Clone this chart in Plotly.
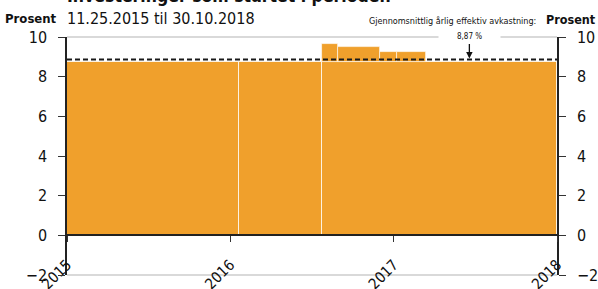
import plotly.graph_objects as go
from datetime import datetime

# ---- data ----
base_starts = ["2015-01-01", "2016-01-21", "2016-07-25"]
base_ends = ["2016-01-21", "2016-07-25", "2018-01-01"]
base_values = [8.72, 8.72, 8.72]

top_starts = ["2016-07-24", "2016-08-29", "2016-12-01", "2017-01-08"]
top_ends = ["2016-08-29", "2016-12-01", "2017-01-08", "2017-03-14"]
top_values = [9.66, 9.49, 9.24, 9.24]

avg_value = 8.87
avg_label = "8,87 %"
avg_marker_date = "2017-06-19"
x_range = ["2015-01-01", "2018-01-01"]
year_ticks = ["2015-01-01", "2016-01-01", "2017-01-01", "2018-01-01"]
year_labels = ["2015", "2016", "2017", "2018"]
y_ticks = [-2, 0, 2, 4, 6, 8, 10]

FONT = "DejaVu Sans Condensed, Liberation Sans Narrow, Roboto, sans-serif"
ORANGE = "#F0A02C"


def ms(a, b):
    return (datetime.fromisoformat(b) - datetime.fromisoformat(a)).total_seconds() * 1000


fig = go.Figure()
fig.add_trace(go.Bar(
    x=base_starts, y=base_values, width=[ms(a, b) for a, b in zip(base_starts, base_ends)],
    offset=0, marker=dict(color=ORANGE, line=dict(color="rgba(255,255,255,0.75)", width=1)),
    showlegend=False, hoverinfo="skip"))
fig.add_trace(go.Bar(
    x=top_starts, y=[v - base_values[0] for v in top_values], base=base_values[0],
    width=[ms(a, b) for a, b in zip(top_starts, top_ends)],
    offset=0, marker=dict(color=ORANGE, line=dict(color="rgba(255,255,255,0.75)", width=0.8)),
    showlegend=False, hoverinfo="skip"))
fig.add_trace(go.Scatter(
    x=x_range, y=[avg_value, avg_value], mode="lines",
    line=dict(color="#1a1a1a", width=2, dash="5px,3px"),
    showlegend=False, hoverinfo="skip"))
# invisible trace for right axis
fig.add_trace(go.Scatter(x=x_range, y=[None, None], yaxis="y2", showlegend=False, hoverinfo="skip"))

y_lo, y_hi = y_ticks[0], y_ticks[-1]

fig.update_layout(
    width=598, height=289,
    margin=dict(l=67, r=41, t=37, b=14),
    paper_bgcolor="white", plot_bgcolor="white",
    barmode="overlay", bargap=0,
    font=dict(family=FONT, color="#111"),
    xaxis=dict(
        type="date", range=x_range, tickvals=year_ticks, ticktext=year_labels,
        tickangle=-45, anchor="free", position=(0 - y_lo) / (y_hi - y_lo),
        showline=True, linecolor="#222", linewidth=1.5,
        ticks="outside", ticklen=6, tickcolor="#333", tickwidth=1,
        showgrid=False, zeroline=False, automargin=False,
        tickfont=dict(size=15, family=FONT, color="#111"),
        ticklabelstandoff=8,
    ),
    yaxis=dict(
        range=[y_lo, y_hi], tickvals=y_ticks, showline=True, linecolor="#222", linewidth=1.5,
        ticks="outside", ticklen=7, tickcolor="#333", showgrid=False,
        zeroline=False, automargin=False,
        tickfont=dict(size=16, family=FONT, color="#111"), ticklabelstandoff=8,
    ),
    yaxis2=dict(
        range=[y_lo, y_hi], tickvals=y_ticks, overlaying="y", side="right", showline=True,
        linecolor="#222", linewidth=1.5, ticks="outside", ticklen=7, tickcolor="#333",
        showgrid=False, zeroline=False, automargin=False,
        tickfont=dict(size=16, family=FONT, color="#111"), ticklabelstandoff=8,
    ),
)

# light frame lines at the top and bottom of the value axis (paper coords: not clipped)
for yp in (0, 1):
    fig.add_shape(type="line", xref="paper", yref="paper", x0=0, x1=1, y0=yp, y1=yp,
                  line=dict(color="#cccccc", width=1.5), layer="below")

ann = [
    dict(text="<b>Investeringer som startet i perioden</b>", xref="paper", yref="paper",
         x=-0.005, y=(275 - 8) / 238, xanchor="left", yanchor="bottom", showarrow=False,
         font=dict(size=17.5, family=FONT, color="#111")),
    dict(text="<b>Prosent</b>", xref="paper", yref="paper", x=-67 / 490 + 3 / 490,
         y=(275 - 18) / 238, xanchor="left", yanchor="middle", showarrow=False,
         font=dict(size=13, family=FONT, color="#111")),
    dict(text="11.25.2015 til 30.10.2018", xref="paper", yref="paper", x=-0.004,
         y=(275 - 18) / 238, xanchor="left", yanchor="middle", showarrow=False,
         font=dict(size=16, family=FONT, color="#111")),
    dict(text="<b>Prosent</b>", xref="paper", yref="paper", x=(598 - 67) / 490,
         y=(275 - 19) / 238, xanchor="right", yanchor="middle", showarrow=False,
         font=dict(size=12.5, family=FONT, color="#111")),
    dict(text="Gjennomsnittlig årlig effektiv avkastning:", xref="paper", yref="paper",
         x=(452 - 67) / 490, y=(275 - 21) / 238, xanchor="center", yanchor="middle",
         showarrow=False, font=dict(size=9, family=FONT, color="#111")),
    dict(text="\u00a0\u00a0\u00a0\u00a0\u00a0\u00a0\u00a0" + avg_label + "\u00a0\u00a0\u00a0\u00a0\u00a0\u00a0\u00a0",
         xref="x", yref="paper", x=avg_marker_date, y=(275 - 36) / 238,
         xanchor="center", yanchor="middle", showarrow=False, bgcolor="white", borderpad=2,
         font=dict(size=8, family=FONT, color="#111")),
    dict(text="", xref="x", yref="y", x=avg_marker_date, y=avg_value + 0.05,
         ax=0, ay=-16, showarrow=True, arrowhead=2, arrowsize=1, arrowwidth=1.3,
         arrowcolor="#111"),
]
fig.update_layout(annotations=ann)

fig.write_html("out.html", config={"displayModeBar": False},
               post_script="document.body.style.margin='0';document.body.style.overflow='hidden';")
